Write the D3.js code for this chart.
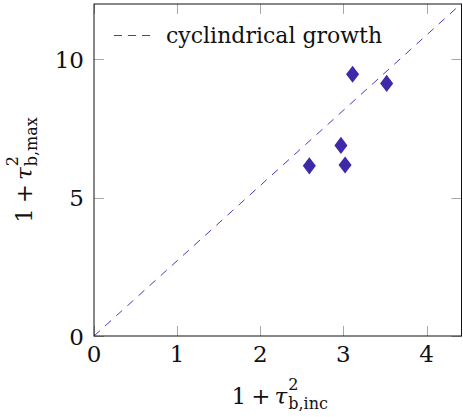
<!DOCTYPE html>
<html>
<head>
<meta charset="utf-8">
<script src="https://cdn.jsdelivr.net/npm/d3@7"></script>
<style>
  body { margin: 0; background: #fff; }
  svg text { font-family: "DejaVu Serif", serif; }
</style>
</head>
<body>
<svg id="chart" width="463" height="417"></svg>
<script>
// Measured growth ratios
const growthX = [3.11, 3.52, 2.97, 2.59, 3.02];
const growthY = [9.46, 9.13, 6.89, 6.15, 6.18];

// Reference line for cylindrical growth (y = e·x)
const lineX = [0, 4.42];
const lineY = [0, 12.02];

const xTicks = [0, 1, 2, 3, 4];
const yTicks = [0, 5, 10];
const xTickLabels = ["0", "1", "2", "3", "4"];
const yTickLabels = ["0", "5", "10"];
const xDomain = [0, 4.42];
const yDomain = [0, 12];
const legendLabel = "cyclindrical growth";

const W = 463, H = 417;
const margin = { left: 94, top: 4, right: 1.5, bottom: 81 };
const innerW = W - margin.left - margin.right;
const innerH = H - margin.top - margin.bottom;

const markColor = "#3c2aa8";
const lineColor = "#4a3bc2";
const tickColor = "#a8a8a8";
const textColor = "#111";
const tickFont = 23;
const labelFont = 23;
const legendFont = 22;
const scriptSize = 16;

const svg = d3.select("#chart");

const x = d3.scaleLinear().domain(xDomain).range([margin.left, margin.left + innerW]);
const y = d3.scaleLinear().domain(yDomain).range([margin.top + innerH, margin.top]);

svg.append("defs").append("clipPath").attr("id", "plot-clip")
  .append("rect")
  .attr("x", margin.left).attr("y", margin.top)
  .attr("width", innerW).attr("height", innerH);

// Tick marks on all four sides, pointing inward
const tickLen = 10;
const ticks = svg.append("g").attr("stroke", tickColor).attr("stroke-width", 1);
xTicks.forEach(v => {
  const px = Math.round(x(v)) + 0.5;
  ticks.append("line").attr("x1", px).attr("x2", px)
    .attr("y1", y(yDomain[0])).attr("y2", y(yDomain[0]) - tickLen);
  ticks.append("line").attr("x1", px).attr("x2", px)
    .attr("y1", y(yDomain[1])).attr("y2", y(yDomain[1]) + tickLen);
});
yTicks.forEach(v => {
  const py = Math.round(y(v)) + 0.5;
  ticks.append("line").attr("y1", py).attr("y2", py)
    .attr("x1", x(xDomain[0])).attr("x2", x(xDomain[0]) + tickLen);
  ticks.append("line").attr("y1", py).attr("y2", py)
    .attr("x1", x(xDomain[1])).attr("x2", x(xDomain[1]) - tickLen);
});

// Dashed reference line
const linePts = lineX.map((v, i) => [v, lineY[i]]);
svg.append("path")
  .attr("clip-path", "url(#plot-clip)")
  .attr("d", d3.line().x(d => x(d[0])).y(d => y(d[1]))(linePts))
  .attr("fill", "none")
  .attr("stroke", lineColor)
  .attr("stroke-width", 1)
  .attr("stroke-dasharray", "8,7");

// Diamond marks (narrower than tall)
const diamondAspect = 0.76;
const diamondType = {
  draw(ctx, size) {
    const h = Math.sqrt(size / (diamondAspect / 2)) / 2;
    const w = h * diamondAspect;
    ctx.moveTo(0, -h);
    ctx.lineTo(w, 0);
    ctx.lineTo(0, h);
    ctx.lineTo(-w, 0);
    ctx.closePath();
  }
};
const pts = growthX.map((v, i) => ({ x: v, y: growthY[i] }));
svg.append("g").selectAll("path").data(pts).join("path")
  .attr("transform", d => `translate(${x(d.x)},${y(d.y)})`)
  .attr("d", d3.symbol().type(diamondType).size(112))
  .attr("fill", markColor);

// Axis frame
svg.append("rect")
  .attr("x", x(xDomain[0])).attr("y", y(yDomain[1]))
  .attr("width", x(xDomain[1]) - x(xDomain[0]))
  .attr("height", y(yDomain[0]) - y(yDomain[1]))
  .attr("fill", "none").attr("stroke", "#111").attr("stroke-width", 1);

// Tick labels
svg.append("g").selectAll("text").data(xTicks).join("text")
  .attr("x", d => x(d)).attr("y", y(yDomain[0]) + 26)
  .attr("text-anchor", "middle")
  .attr("fill", textColor)
  .attr("font-size", tickFont)
  .text((d, i) => xTickLabels[i]);

svg.append("g").selectAll("text").data(yTicks).join("text")
  .attr("x", x(xDomain[0]) - 10).attr("y", d => y(d) + 8.5)
  .attr("text-anchor", "end")
  .attr("fill", textColor)
  .attr("font-size", tickFont)
  .text((d, i) => yTickLabels[i]);

// Axis titles built as 1 + τ with stacked super/subscripts
function mathLabel(parent, sub) {
  const t = parent.append("text")
    .attr("fill", textColor)
    .attr("font-size", labelFont);
  t.append("tspan").text("1");
  t.append("tspan").attr("dx", 5).text("+");
  t.append("tspan").attr("dx", 4).attr("font-style", "italic").text("τ");
  const sup = t.append("tspan").attr("font-size", scriptSize).attr("dx", 1).attr("dy", -14).text("2");
  const supW = sup.node().getComputedTextLength();
  t.append("tspan").attr("font-size", scriptSize).attr("dx", -supW).attr("dy", 19).text(sub);
  return t;
}

const xLabelG = svg.append("g");
const xLabel = mathLabel(xLabelG, "b,inc");
{
  const bb = xLabel.node().getBBox();
  xLabelG.attr("transform", `translate(${(x(xDomain[0]) + x(xDomain[1])) / 2 - bb.width / 2 - bb.x + 2},404)`);
}

const yLabelG = svg.append("g");
const yLabelInner = yLabelG.append("g");
const yLabel = mathLabel(yLabelInner, "b,max");
{
  const bb = yLabel.node().getBBox();
  yLabelInner.attr("transform", `translate(${-bb.width / 2 - bb.x},0)`);
  yLabelG.attr("transform", `translate(32,${(y(yDomain[0]) + y(yDomain[1])) / 2}) rotate(-90)`);
}

// Legend
const legend = svg.append("g");
legend.append("line")
  .attr("x1", 114).attr("x2", 154)
  .attr("y1", 35.5).attr("y2", 35.5)
  .attr("stroke", lineColor).attr("stroke-width", 1)
  .attr("stroke-dasharray", "8,6");
legend.append("text")
  .attr("x", 166).attr("y", 43)
  .attr("fill", textColor)
  .attr("font-size", legendFont)
  .text(legendLabel);
</script>
</body>
</html>
